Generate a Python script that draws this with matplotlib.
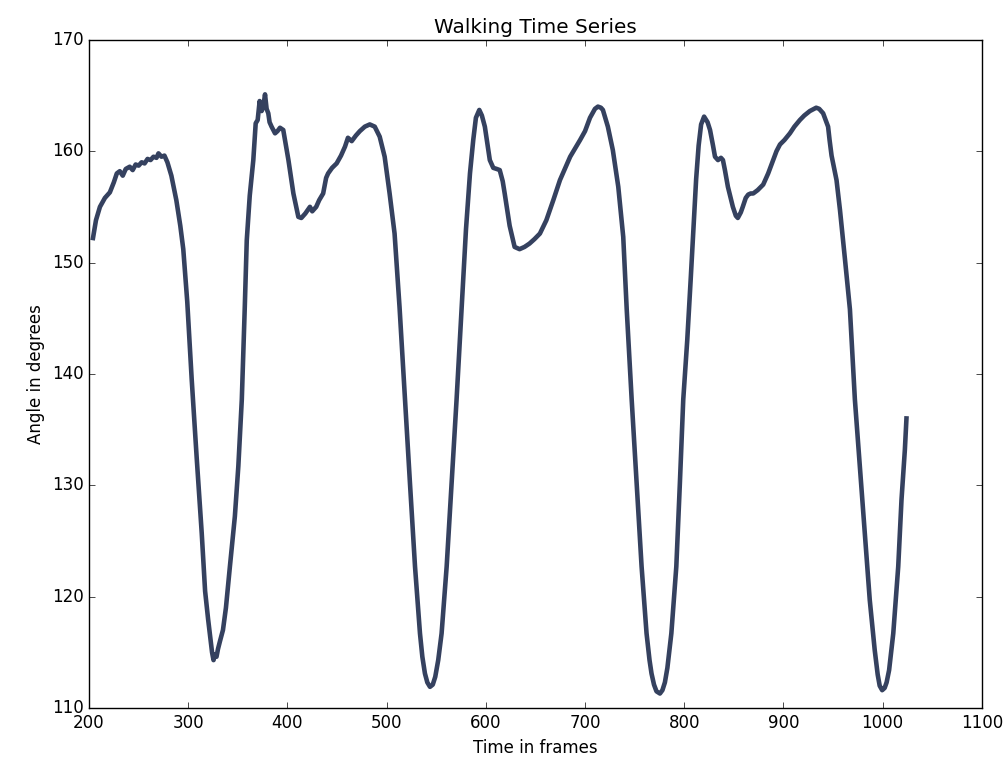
import matplotlib
matplotlib.use('Agg')
import matplotlib.pyplot as plt

plt.style.use('classic')

########################### data: knee angle per frame
frames = [204, 207, 211, 216, 221, 225, 228, 231, 234, 237, 241, 244, 247, 250, 253, 256, 259, 262, 265, 268,
          270, 273, 276, 279, 283, 288, 292, 295, 299, 303.5, 308.5, 313.6, 317, 320, 322, 324, 325.5, 327, 328.5, 330,
          332, 335, 338, 342, 347, 350.5, 354, 357, 359, 362, 365.6, 368, 370, 372, 374, 375.7, 377.4, 379, 380.7, 382,
          384, 387.5, 390, 392.5, 395.8, 401, 406, 411, 414, 418, 422.7, 425, 429, 432, 436, 439, 441, 445, 449.6, 454,
          458, 461, 464.8, 469, 473, 478, 483, 488, 493, 498, 503, 508, 513, 518.5, 523.5, 528.6, 533.6, 536, 538.6, 541,
          543.7, 546.5, 549, 552, 555.4, 560.5, 565.5, 570.5, 575, 580, 584, 587.3, 590, 593.4, 596, 599, 604, 607.5, 611, 614,
          617, 619, 624, 629, 634, 639, 644, 649, 654.5, 661, 668, 674.7, 685, 695, 700, 705, 710, 713, 716, 718,
          723, 728, 733.5, 738.5, 742, 747, 752, 757, 762, 765, 767, 769.5, 772, 775.5, 778, 780.5, 783, 787, 792, 795.6,
          799, 803, 806.5, 809.5, 812, 814.5, 817, 820, 823.5, 826, 829, 831, 834, 837, 839, 841, 844, 849, 852, 854,
          857, 859, 862, 864.5, 867, 869.5, 874, 879.6, 884.6, 889.6, 893, 896.5, 901, 906.5, 911, 916.6, 921, 926.6, 933, 936,
          940, 945, 946.5, 948.5, 953.5, 957, 962, 967, 972, 977, 982, 987, 992, 995, 997, 999.5, 1002, 1004, 1006.5, 1010.7,
          1015.7, 1019, 1022.4, 1024]
angles = [152.2, 153.8, 155.0, 155.8, 156.3, 157.2, 158.0, 158.2, 157.8, 158.4, 158.6, 158.3, 158.8, 158.7, 159.0, 158.9, 159.3, 159.2, 159.5, 159.4,
          159.8, 159.5, 159.6, 159.0, 157.8, 155.6, 153.3, 151.2, 146.5, 139.5, 132.5, 125.7, 120.5, 118.0, 116.5, 115.0, 114.3, 114.8, 114.6, 115.3,
          116.0, 117.0, 119.0, 122.7, 127.2, 131.7, 137.7, 146.0, 152.0, 156.0, 159.2, 162.5, 162.8, 164.5, 163.6, 164.0, 165.1, 163.8, 163.4, 162.6,
          162.2, 161.6, 161.8, 162.1, 161.9, 159.2, 156.2, 154.1, 154.0, 154.4, 155.0, 154.6, 155.0, 155.6, 156.2, 157.6, 158.0, 158.5, 158.9, 159.6,
          160.4, 161.2, 160.9, 161.4, 161.8, 162.2, 162.4, 162.2, 161.3, 159.5, 156.2, 152.6, 146.0, 137.7, 130.2, 122.7, 116.7, 114.6, 113.1, 112.3,
          111.9, 112.1, 112.8, 114.3, 116.7, 122.7, 130.2, 137.7, 145.0, 153.0, 158.0, 161.0, 163.0, 163.7, 163.2, 162.2, 159.2, 158.5, 158.4, 158.3,
          157.3, 156.2, 153.3, 151.4, 151.2, 151.4, 151.7, 152.1, 152.6, 153.8, 155.6, 157.4, 159.5, 161.0, 161.8, 163.0, 163.8, 164.0, 163.9, 163.7,
          162.2, 160.1, 156.8, 152.3, 145.8, 137.7, 130.2, 122.7, 116.7, 114.3, 113.1, 112.1, 111.5, 111.3, 111.6, 112.3, 113.6, 116.7, 122.7, 130.2,
          137.7, 143.0, 148.5, 153.5, 157.5, 160.5, 162.4, 163.1, 162.6, 161.9, 160.5, 159.5, 159.2, 159.4, 159.2, 158.3, 156.8, 155.0, 154.2, 154.0,
          154.5, 155.0, 155.8, 156.1, 156.2, 156.2, 156.5, 157.0, 158.0, 159.2, 160.0, 160.6, 161.0, 161.6, 162.2, 162.8, 163.2, 163.6, 163.9, 163.8,
          163.4, 162.2, 161.0, 159.6, 157.4, 154.7, 150.3, 145.8, 137.7, 131.7, 125.7, 119.7, 115.2, 113.0, 112.0, 111.6, 111.8, 112.3, 113.4, 116.7,
          122.7, 128.7, 133.2, 136.0]

x_ticks = list(range(200, 1101, 100))
y_ticks = list(range(110, 171, 10))

########################### plot
fig = plt.figure(figsize=(10.06, 7.65), dpi=100, facecolor='white')
ax = fig.add_subplot(111)
fig.subplots_adjust(left=0.0885, right=0.976, top=0.948, bottom=0.0745)

ax.plot(frames, angles, color='#35415f', linewidth=3.3, solid_joinstyle='round')

ax.set_xlim(200, 1100)
ax.set_ylim(110, 170)
ax.set_xticks(x_ticks)
ax.set_yticks(y_ticks)
ax.set_title('Walking Time Series')
ax.set_xlabel('Time in frames')
ax.set_ylabel('Angle in degrees')

plt.savefig('out.png', dpi=100, facecolor='white')
plt.close()
